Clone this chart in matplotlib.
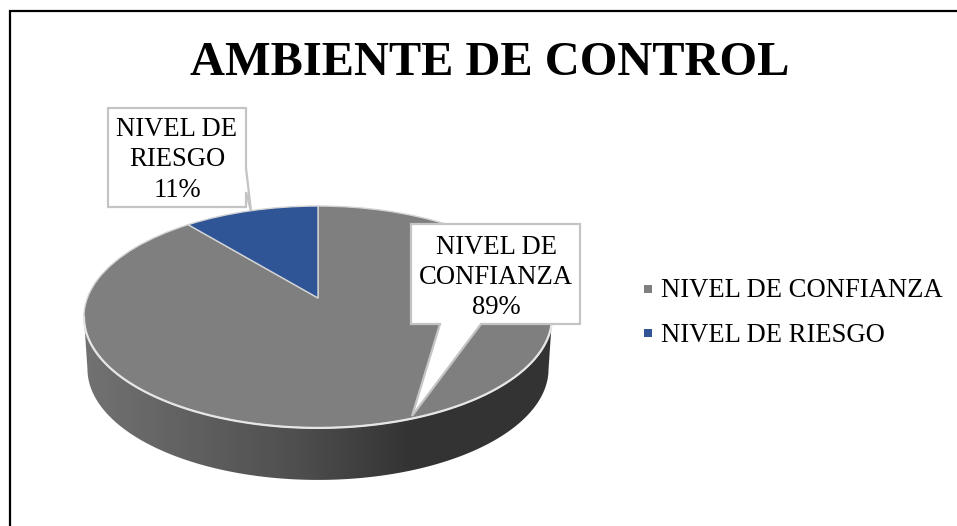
import numpy as np
import matplotlib
matplotlib.use("Agg")
import matplotlib.pyplot as plt
from matplotlib.path import Path
from matplotlib.patches import PathPatch, Polygon, Rectangle
from matplotlib.colors import LinearSegmentedColormap

plt.rcParams['font.family'] = ['Liberation Serif', 'DejaVu Serif']

title = "AMBIENTE DE CONTROL"
categories = ["NIVEL DE CONFIANZA", "NIVEL DE RIESGO"]
values = [89, 11]
colors = ["#7f7f7f", "#2f5597"]
label_text = ["NIVEL DE\nCONFIANZA\n89%", "NIVEL DE\nRIESGO\n11%"]

W, H = 957, 526
fig = plt.figure(figsize=(W / 100, H / 100), dpi=100, facecolor="white")
ax = fig.add_axes([0, 0, 1, 1])

# Perspective of the tilted pie, in pixels
CX, CY, A, B, K, DEPTH = 318, 298, 230.6, 107.7, 0.171, 52


def project(xy):
    xy = np.asarray(xy, float)
    w = 1 + K * xy[:, 1]
    return np.column_stack([CX + A * xy[:, 0] / w, CY - B * xy[:, 1] / w])


wedges, _ = ax.pie(values, colors=colors, startangle=90, counterclock=False, radius=1)
flat = []
for w in wedges:
    p = w.get_path()
    flat.append((Path(project(p.vertices), p.codes), w.get_facecolor()))
    w.remove()

# rim of the disc
t = np.linspace(0, 2 * np.pi, 721)
rim = project(np.column_stack([np.cos(t), np.sin(t)]))

# side wall: from the leftmost to the rightmost rim point through the bottom
il, ir = rim[:, 0].argmin(), rim[:, 0].argmax()
order = np.arange(il, ir + 1) if il < ir else np.r_[il:len(rim), 0:ir + 1]
low = rim[order]
shift = low.copy()
shift[:, 0] = CX + (shift[:, 0] - CX) * 0.985
shift[:, 1] += DEPTH
side = np.vstack([low, shift[::-1]])
cmap = LinearSegmentedColormap.from_list(
    "side", [(0, "#727272"), (0.45, "#4f4f4f"), (0.70, "#333333"), (1, "#333333")])
img = ax.imshow(np.linspace(0, 1, 256)[None, :], cmap=cmap, vmin=0, vmax=1,
                extent=(rim[:, 0].min(), rim[:, 0].max(), 490, 300), aspect="auto", zorder=1)
clip = Polygon(side, closed=True, transform=ax.transData, fc="none", ec="none")
ax.add_patch(clip)
img.set_clip_path(clip)

for path, fc in flat:
    ax.add_patch(PathPatch(path, facecolor=fc, edgecolor="#d4d4d4", lw=1.0, zorder=2))
ax.plot(low[:, 0], low[:, 1], color="#e6e6e6", lw=1.6, zorder=3)

# Data labels with callouts
edge = "#c4c4c4"
ax.add_patch(Polygon([(108, 108), (246, 108), (246, 168), (251, 211), (246, 192), (246, 207), (108, 207)],
                     closed=True, fc="white", ec=edge, lw=1.6, zorder=4))
ax.add_patch(Polygon([(411, 224), (580, 224), (580, 324), (481, 324), (412, 416), (440, 324), (411, 324)],
                     closed=True, fc="white", ec=edge, lw=1.6, zorder=4))
lab = dict(ha="center", va="center", fontsize=19.2, color="black", linespacing=1.28, zorder=5)
ax.text(177, 160, label_text[1], **lab)
ax.text(496, 277.5, label_text[0], **lab)

# Title
ax.text(489.5, 75, title, ha="center", va="baseline", fontsize=34.8, fontweight="bold", color="black")

# Legend
for y, base, c, name in zip([289, 333], [297, 342], colors, categories):
    ax.add_patch(Rectangle((643.5, y - 4), 8, 8, fc=c, ec="none"))
    ax.text(661, base, name, ha="left", va="baseline", fontsize=19.2, color="black")

ax.set_aspect("auto")
ax.set_xlim(0, W)
ax.set_ylim(H, 0)
ax.axis("off")

# chart frame: only the top and left edges fall inside the picture
ax.plot([10, 10, W], [H, 10.5, 10.5], color="black", lw=1.6, solid_joinstyle="miter", zorder=6)

fig.savefig("out.png", dpi=100)
